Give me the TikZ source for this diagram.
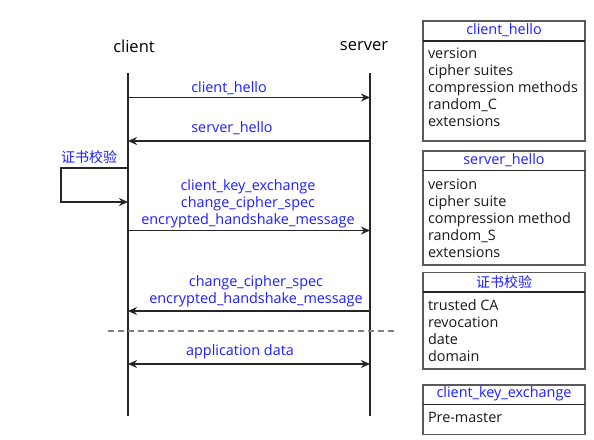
\documentclass[tikz,border=0pt]{standalone}
\usepackage{fontspec}
\setmainfont{Open Sans}
\newfontfamily\cjk{Noto Sans CJK SC}
\usetikzlibrary{arrows.meta}
\definecolor{lblue}{RGB}{30,30,250}
\definecolor{boxgray}{RGB}{90,90,90}
\begin{document}
\begin{tikzpicture}[x=1pt,y=-1pt,
  every node/.style={inner sep=0pt,outer sep=0pt},
  head/.style={font=\fontsize{16.5}{20}\selectfont,text=black},
  msg/.style={font=\fontsize{14.4}{17}\selectfont,text=lblue,align=center},
  life/.style={line width=1.6pt,black!85},
  arr/.style={line width=1.6pt,black!85,-{Stealth[length=9pt,width=8pt]}},
  darr/.style={line width=1.6pt,black!85,{Stealth[length=9pt,width=8pt]}-{Stealth[length=9pt,width=8pt]}},
  boxframe/.style={draw=boxgray,line width=1.1pt},
  boxsep/.style={draw=black!85,line width=1.4pt},
  boxtitle/.style={font=\fontsize{14.4}{17}\selectfont,text=lblue},
  boxbody/.style={font=\fontsize{14.4}{17}\selectfont,text=black!90,align=left,anchor=north west}
]
\useasboundingbox (0,0) rectangle (594,439);

% headers
\node[head] (client) at (134,46) {client};
\node[head] (server) at (364,46) {server};

% lifelines
\coordinate (ctop) at (128,73);
\coordinate (cbot) at (128,416);
\coordinate (stop) at (370,73);
\coordinate (sbot) at (370,416);
\draw[life] (ctop) -- (cbot);
\draw[life] (stop) -- (sbot);

% client_hello
\coordinate (c1) at (128,97.5);
\coordinate (s1) at (370,97.5);
\draw[arr] (c1) -- (s1);
\node[msg] (m1) at (229,88) {client\_hello};

% server_hello
\coordinate (c2) at (128,141);
\coordinate (s2) at (370,141);
\draw[arr] (s2) -- (c2);
\node[msg] (m2) at (232,128) {server\_hello};

% certificate check loop
\node[msg,font=\fontsize{14}{17}\selectfont\cjk] (cert) at (89,157) {证书校验};
\coordinate (l1) at (128,168);
\coordinate (l2) at (61,168);
\coordinate (l3) at (61,202);
\coordinate (l4) at (128,202);
\draw[arr] (l1) -- (l2) -- (l3) -- (l4);

% client_key_exchange etc.
\coordinate (c3) at (128,230.5);
\coordinate (s3) at (370,230.5);
\draw[arr] (c3) -- (s3);
\node[msg] (m3) at (248,204) {client\_key\_exchange\\change\_cipher\_spec\\encrypted\_handshake\_message};

% change_cipher_spec back
\coordinate (c4) at (128,311);
\coordinate (s4) at (370,311);
\draw[arr] (s4) -- (c4);
\node[msg] (m4) at (256,291) {change\_cipher\_spec\\encrypted\_handshake\_message};

% dashed separator
\coordinate (d1) at (108,331);
\coordinate (d2) at (397,331);
\draw[gray,line width=1.2pt,dash pattern=on 6pt off 4pt] (d1) -- (d2);

% application data
\coordinate (c5) at (128,364);
\coordinate (s5) at (370,364);
\draw[darr] (c5) -- (s5);
\node[msg] (m5) at (240,351.5) {application data};

% right-hand boxes
% client_hello box
\node[boxframe,minimum width=162pt,minimum height=120pt,anchor=north west] (b1) at (423,21) {};
\draw[boxsep] (b1.north west |- 0,41) -- (b1.north east |- 0,41);
\node[boxtitle] (t1) at (504,30.5) {client\_hello};
\node[boxbody] (i1) at (428,48) {version\\cipher suites\\compression methods\\random\_C\\extensions};

% server_hello box
\node[boxframe,minimum width=162pt,minimum height=114pt,anchor=north west] (b2) at (423,151) {};
\draw[boxsep] (b2.north west |- 0,170.5) -- (b2.north east |- 0,170.5);
\node[boxtitle] (t2) at (504,160.5) {server\_hello};
\node[boxbody] (i2) at (428,178.5) {version\\cipher suite\\compression method\\random\_S\\extensions};

% certificate check box
\node[boxframe,minimum width=162pt,minimum height=96.5pt,anchor=north west] (b3) at (423,272.5) {};
\draw[boxsep] (b3.north west |- 0,292) -- (b3.north east |- 0,292);
\node[boxtitle,font=\fontsize{14}{17}\selectfont\cjk] (t3) at (504,282) {证书校验};
\node[boxbody] (i3) at (428,299.5) {trusted CA\\revocation\\date\\domain};

% client_key_exchange box
\node[boxframe,minimum width=162pt,minimum height=49.5pt,anchor=north west] (b4) at (423,385) {};
\draw[boxsep] (b4.north west |- 0,404.5) -- (b4.north east |- 0,404.5);
\node[boxtitle] (t4) at (504,394) {client\_key\_exchange};
\node[boxbody] (i4) at (428,412) {Pre-master};
\end{tikzpicture}
\end{document}
